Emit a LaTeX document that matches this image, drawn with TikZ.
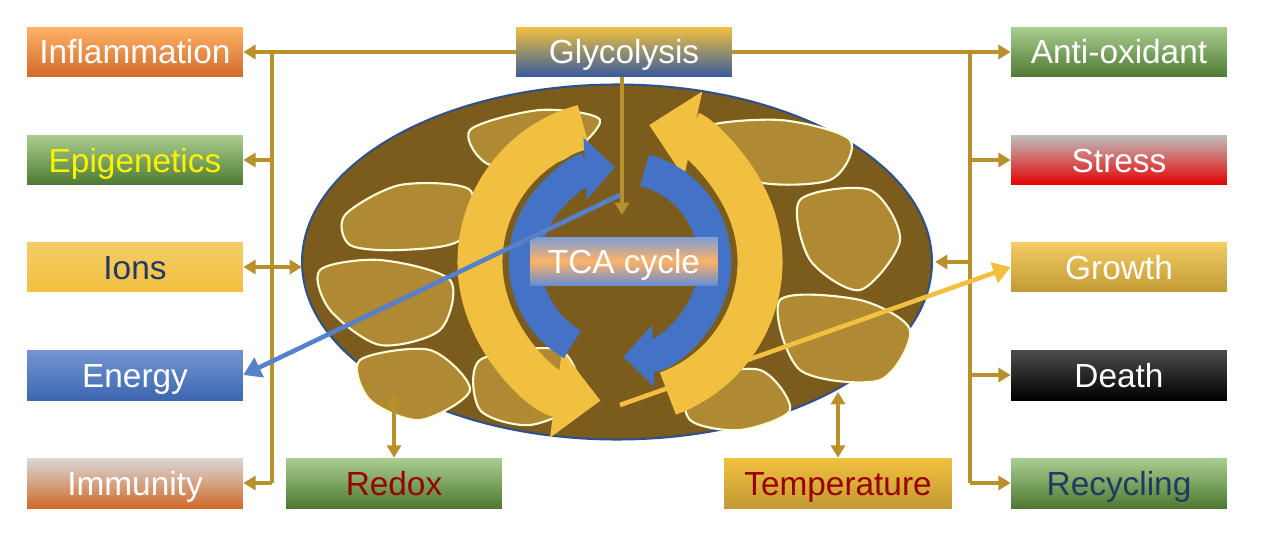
\documentclass[tikz,border=0pt]{standalone}
\usepackage{fontspec}
\setmainfont{Liberation Sans}
\usetikzlibrary{positioning}
\usetikzlibrary{arrows.meta}
\usetikzlibrary{shapes.geometric}
\definecolor{gold}{HTML}{B8902C}
\definecolor{mito}{HTML}{7B5C1C}
\definecolor{blobc}{HTML}{B08A32}
\definecolor{ylw}{HTML}{F2C040}
\definecolor{blu}{HTML}{4472C4}
\definecolor{grn}{HTML}{70AD47}
\definecolor{org}{HTML}{D06A2C}
\begin{document}
\begin{tikzpicture}[x=0.02cm, y=-0.02cm,
  box/.style={minimum width=4.32cm, minimum height=1cm, inner sep=0pt, text height=0.52cm, text depth=0.04cm, font=\fontsize{19}{21}\selectfont, text=white},
  link/.style={gold, line width=2.2pt},
  tip/.style={-{Triangle[length=7pt,width=8pt]}},
  blob/.style={fill=blobc, draw=white!85!yellow, line width=1.2pt}
]
\useasboundingbox (0,0) rectangle (1270,534);

% Mitochondrion
\node[draw=blu!70!black, line width=1.2pt, fill=mito, ellipse, minimum width=12.6cm, minimum height=7.1cm] (mito) at (617,262) {};
\fill[blob] plot[smooth cycle] coordinates {(345,215) (400,185) (470,190) (460,240) (400,250) (350,245)};
\fill[blob] plot[smooth cycle] coordinates {(320,270) (380,260) (450,280) (440,330) (380,345) (330,310)};
\fill[blob] plot[smooth cycle] coordinates {(360,360) (430,350) (470,390) (420,420) (370,400)};
\fill[blob] plot[smooth cycle] coordinates {(470,130) (540,110) (600,120) (560,160) (490,165)};
\fill[blob] plot[smooth cycle] coordinates {(480,360) (560,350) (580,400) (530,425) (480,410)};
\fill[blob] plot[smooth cycle] coordinates {(700,130) (780,120) (850,140) (830,180) (750,180)};
\fill[blob] plot[smooth cycle] coordinates {(800,200) (870,190) (900,240) (860,290) (810,260)};
\fill[blob] plot[smooth cycle] coordinates {(780,300) (860,300) (910,330) (880,380) (800,370)};
\fill[blob] plot[smooth cycle] coordinates {(690,380) (760,370) (790,410) (740,430) (690,420)};

% Cycle arrows
\draw[ylw, line width=0.9cm, -{Triangle[length=0.9cm,width=1.7cm]}] (620,262) ++(70:140) arc[start angle=70, end angle=-78, radius=140];
\draw[ylw, line width=0.9cm, -{Triangle[length=0.9cm,width=1.7cm]}] (620,262) ++(-105:140) arc[start angle=-105, end angle=-262, radius=140];
\draw[blu, line width=0.65cm, -{Triangle[length=0.6cm,width=1.2cm]}] (620,262) ++(-240:95) arc[start angle=-240, end angle=-93, radius=95];
\draw[blu, line width=0.65cm, -{Triangle[length=0.6cm,width=1.2cm]}] (620,262) ++(-75:95) arc[start angle=-75, end angle=88, radius=95];

% Boxes
\node[box, top color=ylw, bottom color=blu!80!black] (glyco) at (624,52) {Glycolysis};
\node[box, minimum width=3.76cm, minimum height=0.96cm, top color=blu!70, bottom color=blu!80, middle color=orange!60] (tca) at (624,261) {TCA cycle};
\node[box, top color=orange!60, bottom color=org] (infl) at (135,52) {Inflammation};
\node[box, top color=grn!60, bottom color=grn!70!black, text=yellow] (epi) at (135,160) {Epigenetics};
\node[box, top color=ylw!80, bottom color=ylw, text=blu!50!black] (ions) at (135,267) {Ions};
\node[box, top color=blu!75, bottom color=blu!90!black] (energy) at (135,375) {Energy};
\node[box, top color=gray!30, bottom color=org] (immu) at (135,483) {Immunity};
\node[box, top color=grn!60, bottom color=grn!70!black] (anti) at (1119,52) {Anti-oxidant};
\node[box, top color=gray!50, bottom color=red!90!black] (stress) at (1119,160) {Stress};
\node[box, top color=ylw!80, bottom color=ylw!80!black] (growth) at (1119,267) {Growth};
\node[box, top color=black!70, bottom color=black] (death) at (1119,375) {Death};
\node[box, top color=grn!60, bottom color=grn!70!black, text=blu!50!black] (recyc) at (1119,483) {Recycling};
\node[box, top color=grn!60, bottom color=grn!70!black, text=red!60!black] (redox) at (394,483) {Redox};
\node[box, minimum width=4.56cm, top color=ylw, bottom color=ylw!80!black, text=red!60!black] (temp) at (838,483) {Temperature};

% Coordinates on the frame
\coordinate (lt) at (272,52);
\coordinate (lb) at (272,483);
\coordinate (rt) at (970,52);
\coordinate (rb) at (970,483);
\coordinate (tcatop) at (622,215);
\coordinate (redoxup) at (394,395);
\coordinate (tempup) at (838,392);
\coordinate (mitoL) at (302,267);
\coordinate (mitoR) at (935,262);

% Links
\draw[link] (lt) -- (lb);
\draw[link] (rt) -- (rb);
\draw[link, tip] (glyco.west) -- (infl.east);
\draw[link, tip] (glyco.east) -- (anti.west);
\draw[link, tip] (lt |- epi) -- (epi.east);
\draw[link, tip] (lb) -- (immu.east);
\draw[link, tip] (rt |- stress) -- (stress.west);
\draw[link, tip] (rt |- death) -- (death.west);
\draw[link, tip] (rb) -- (recyc.west);
\draw[link, {Triangle[length=7pt,width=8pt]}-{Triangle[length=7pt,width=8pt]}] (ions.east) -- (mitoL);
\draw[link, tip] (rt |- mitoR) -- (mitoR);
\draw[link, {Triangle[length=7pt,width=8pt]}-{Triangle[length=7pt,width=8pt]}] (redoxup) -- (redox.north);
\draw[link, {Triangle[length=7pt,width=8pt]}-{Triangle[length=7pt,width=8pt]}] (tempup) -- (temp.north);
\draw[link, tip] (glyco.south -| tcatop) -- (tcatop);
\draw[blu!90, line width=2.6pt, -{Triangle[length=10pt,width=12pt]}] (620,195) -- (energy.east);
\draw[ylw, line width=2.6pt, -{Triangle[length=10pt,width=12pt]}] (620,405) -- (growth.west);
\end{tikzpicture}
\end{document}
